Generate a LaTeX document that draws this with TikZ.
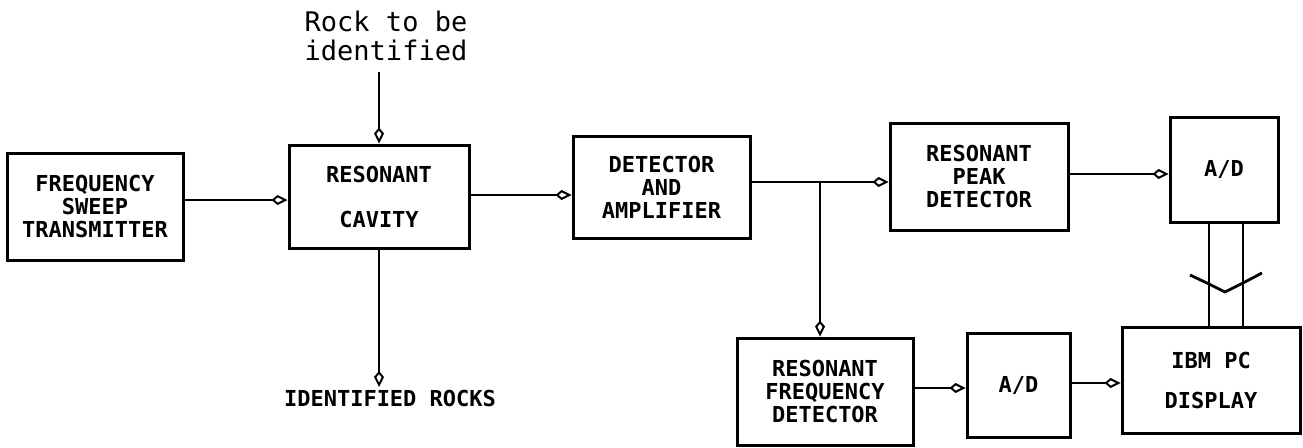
\documentclass[tikz,border=0pt]{standalone}
\usepackage{fontspec}
\setmonofont{DejaVu Sans Mono}
\usetikzlibrary{arrows.meta}
\newcommand\boxfont{\fontsize{22}{23}\selectfont\ttfamily\bfseries}
\newcommand\rockfont{\fontsize{27}{29}\selectfont\ttfamily}
\tikzset{
  box/.style={draw, line width=3pt, rectangle, inner sep=0pt, align=center, font=\boxfont},
  conn/.style={line width=2.8pt},
  arr/.style={conn, -{Kite[open, length=16pt, width=10pt, inset=6pt, line width=2pt]}},
  lbl/.style={inner sep=0pt, align=center},
}
\begin{document}
\begin{tikzpicture}[x=1pt, y=-1pt]
\useasboundingbox (0,0) rectangle (1303,447);
% boxes
\node[box, minimum width=176pt, minimum height=107pt] (tx) at (95,206.5) {FREQUENCY\\SWEEP\\TRANSMITTER};
\node[box, minimum width=180pt, minimum height=103pt] (cav) at (379,196.5) {RESONANT\\[22pt]CAVITY};
\node[box, minimum width=177pt, minimum height=102pt] (det) at (661.5,187) {DETECTOR\\AND\\AMPLIFIER};
\node[box, minimum width=178pt, minimum height=107pt] (peak) at (979,176.5) {RESONANT\\PEAK\\DETECTOR};
\node[box, minimum width=108pt, minimum height=105pt] (ad1) at (1224,169.5) {A/D};
\node[box, minimum width=176pt, minimum height=107pt] (rfd) at (825,391.5) {RESONANT\\FREQUENCY\\DETECTOR};
\node[box, minimum width=103pt, minimum height=104pt] (ad2) at (1018.5,385) {A/D};
\node[box, minimum width=178pt, minimum height=106pt] (ibm) at (1211,380) {IBM PC\\[17pt]DISPLAY};
% free labels
\node[lbl, font=\rockfont] (rock) at (386,36) {Rock to be\\identified};
\node[lbl, font=\boxfont] (ident) at (390,398) {IDENTIFIED ROCKS};
% connectors
\draw[arr] (tx.east |- 0,200) -- (cav.west |- 0,200);
\draw[arr] (cav.north |- 0,72) -- (cav.north);
\draw[arr] (cav.south) -- (cav.south |- 0,387);
\draw[arr] (cav.east |- 0,195) -- (det.west |- 0,195);
\coordinate (j) at (820,182);
\draw[conn] (det.east |- j) -- (j);
\draw[arr] (j) -- (peak.west |- j);
\draw[arr] (j) -- (j |- rfd.north);
\draw[arr] (peak.east |- 0,174) -- (ad1.west |- 0,174);
\draw[arr] (rfd.east |- 0,388) -- (ad2.west |- 0,388);
\draw[arr] (ad2.east |- 0,383) -- (ibm.west |- 0,383);
% bus between A/D and IBM PC
\draw[conn] (1209,0 |- ad1.south) -- (1209,0 |- ibm.north);
\draw[conn] (1243,0 |- ad1.south) -- (1243,0 |- ibm.north);
\draw[conn, line join=round] (1190,275) -- (1209,284) -- (1225,292) -- (1243,283) -- (1262,273);
\end{tikzpicture}
\end{document}
